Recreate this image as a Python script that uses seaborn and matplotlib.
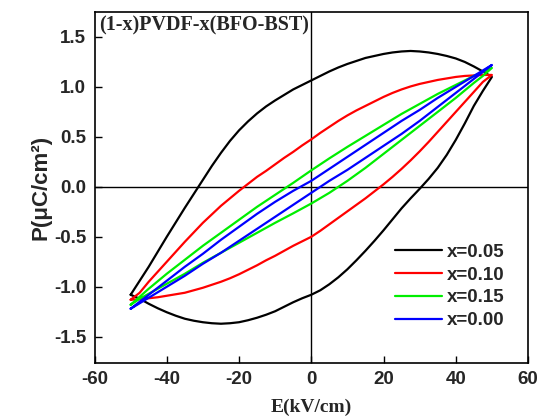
import numpy as np
import pandas as pd
import matplotlib
matplotlib.use("Agg")
import matplotlib.pyplot as plt
import seaborn as sns

# ---- data ----
E_fine = [-50, -47.5, -45, -42.5, -40, -37.5, -35, -32.5, -30, -27.5, -25, -22.5,
          -20, -17.5, -15, -12.5, -10, -7.5, -5, -2.5, 0, 2.5, 5, 7.5, 10, 12.5,
          15, 17.5, 20, 22.5, 25, 27.5, 30, 32.5, 35, 37.5, 40, 42.5, 45, 47.5, 50]
E_coarse = [-50, -47.5, -45, -40, -35, -30, -25, -20, -15, -10, -5, 0,
            5, 10, 15, 20, 25, 30, 35, 40, 45, 47.5, 50]

labels = ["x=0.05", "x=0.10", "x=0.15", "x=0.00"]

# x=0.05 (black)
up_005 = [-1.08, -0.94, -0.80, -0.65, -0.50, -0.355, -0.21, -0.07, 0.07, 0.21, 0.34, 0.46,
          0.565, 0.655, 0.735, 0.805, 0.865, 0.92, 0.975, 1.02, 1.065, 1.11, 1.155, 1.195,
          1.23, 1.26, 1.29, 1.31, 1.33, 1.345, 1.355, 1.36, 1.355, 1.345, 1.33, 1.31,
          1.285, 1.25, 1.205, 1.155, 1.10]
lo_005 = [-1.08, -1.12, -1.17, -1.215, -1.255, -1.29, -1.32, -1.34, -1.355, -1.365, -1.37,
          -1.365, -1.355, -1.335, -1.31, -1.28, -1.245, -1.20, -1.155, -1.115, -1.08,
          -1.035, -0.975, -0.905, -0.825, -0.735, -0.64, -0.54, -0.435, -0.325, -0.215,
          -0.115, -0.02, 0.08, 0.19, 0.32, 0.47, 0.635, 0.81, 0.96, 1.10]
# x=0.10 (red)
up_010 = [-1.13, -1.06, -0.95, -0.85, -0.75, -0.65, -0.55, -0.455, -0.36, -0.275, -0.19,
          -0.115, -0.04, 0.03, 0.10, 0.16, 0.225, 0.29, 0.35, 0.415, 0.475, 0.54, 0.60,
          0.66, 0.715, 0.765, 0.81, 0.855, 0.90, 0.94, 0.975, 1.005, 1.03, 1.05, 1.07,
          1.085, 1.10, 1.11, 1.115, 1.12, 1.12]
lo_010 = [-1.13, -1.125, -1.115, -1.105, -1.09, -1.075, -1.06, -1.035, -1.01, -0.98, -0.95,
          -0.915, -0.875, -0.83, -0.785, -0.735, -0.69, -0.64, -0.59, -0.545, -0.50, -0.44,
          -0.375, -0.31, -0.245, -0.18, -0.115, -0.045, 0.025, 0.10, 0.18, 0.265, 0.355,
          0.45, 0.55, 0.65, 0.75, 0.85, 0.95, 1.05, 1.12]
# x=0.15 (green)
up_015 = [-1.18, -1.10, -1.02, -0.87, -0.73, -0.59, -0.46, -0.33, -0.20, -0.08, 0.04, 0.165,
          0.285, 0.40, 0.51, 0.62, 0.73, 0.83, 0.93, 1.02, 1.11, 1.15, 1.19]
lo_015 = [-1.18, -1.12, -1.07, -0.97, -0.87, -0.76, -0.66, -0.56, -0.46, -0.36, -0.265, -0.167,
          -0.06, 0.06, 0.19, 0.33, 0.47, 0.61, 0.75, 0.89, 1.04, 1.11, 1.19]
# x=0.00 (blue)
up_000 = [-1.22, -1.15, -1.08, -0.94, -0.80, -0.67, -0.53, -0.40, -0.27, -0.15, -0.04, 0.06,
          0.18, 0.30, 0.42, 0.54, 0.66, 0.77, 0.89, 1.00, 1.11, 1.165, 1.22]
lo_000 = [-1.22, -1.165, -1.11, -1.00, -0.89, -0.77, -0.66, -0.54, -0.42, -0.30, -0.18, -0.06,
          0.06, 0.17, 0.29, 0.41, 0.53, 0.66, 0.80, 0.94, 1.08, 1.15, 1.22]

colors = ["#000000", "#ff0000", "#00ee00", "#0000ff"]

x_ticks = [-60, -40, -20, 0, 20, 40, 60]
y_ticks = [-1.5, -1.0, -0.5, 0.0, 0.5, 1.0, 1.5]

# ---- build table ----
rows = []
series = [
    (labels[0], E_fine, up_005, lo_005),
    (labels[1], E_fine, up_010, lo_010),
    (labels[2], E_coarse, up_015, lo_015),
    (labels[3], E_coarse, up_000, lo_000),
]
for lab, Ex, up, lo in series:
    Es = list(Ex) + list(Ex[::-1])
    Ps = list(up) + list(lo[::-1])
    for e, p in zip(Es, Ps):
        rows.append({"series": lab, "E": e, "P": p})
df = pd.DataFrame(rows)

sns.set_theme(style="ticks")
plt.rcParams["axes.unicode_minus"] = False
plt.rcParams["font.family"] = ["Liberation Sans", "DejaVu Sans"]

fig = plt.figure(figsize=(5.41, 4.18), dpi=100)
ax = fig.add_axes([0.1747, 0.1323, 0.8013, 0.839])

ax.axhline(0, color="black", lw=1.0, zorder=1)
ax.axvline(0, color="black", lw=1.0, zorder=1)

sns.lineplot(data=df, x="E", y="P", hue="series", hue_order=labels,
             palette=colors, sort=False, estimator=None,
             lw=1.6, ax=ax, zorder=3)

ax.set_xlim(-60, 60)
ax.set_ylim(-1.76, 1.75)
ax.set_xticks(x_ticks)
ax.set_xticklabels([str(v) for v in x_ticks])
ax.set_yticks(y_ticks)
ax.set_yticklabels([f"{v:.1f}" for v in y_ticks])
ax.tick_params(direction="in", length=5, width=1, labelsize=13.5, pad=6,
               top=False, right=False, color="black")
for lab in ax.get_xticklabels() + ax.get_yticklabels():
    lab.set_fontweight("bold")
for s in ax.spines.values():
    s.set_color("black")
    s.set_linewidth(1.2)

ax.set_xlabel("E(kV/cm)", fontsize=14, fontweight="bold",
              family=["Liberation Serif", "DejaVu Serif"], labelpad=8)
ax.set_ylabel("P(μC/cm²)", fontsize=16, fontweight="bold",
              family=["Liberation Sans", "DejaVu Sans"], labelpad=2)

ax.text(-58.8, 1.615, "(1-x)PVDF-x(BFO-BST)", fontsize=14.5, fontweight="bold",
        family=["Liberation Serif", "DejaVu Serif"], va="center", ha="left")

leg = ax.legend(loc="lower right", bbox_to_anchor=(0.977, 0.058), frameon=False,
                fontsize=13.5, handlelength=2.5, handletextpad=0.3,
                labelspacing=0.3, borderaxespad=0.3)
for t in leg.get_texts():
    t.set_fontweight("bold")
for h in leg.get_lines():
    h.set_linewidth(1.6)

fig.savefig("out.png", dpi=100)
